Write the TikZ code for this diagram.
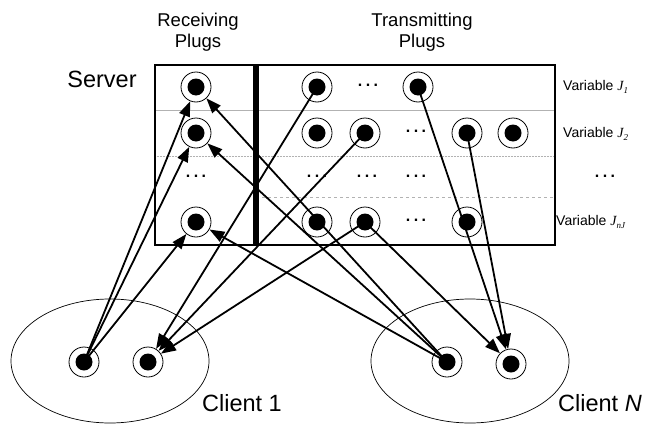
\documentclass[tikz,border=0pt]{standalone}
\usepackage{fontspec}
\setmainfont{Liberation Sans}
\newfontfamily\serifJ{Liberation Serif}
\usetikzlibrary{arrows.meta}
\newcommand{\varJ}[1]{{\serifJ\itshape J}\raisebox{-0.35ex}{\fontsize{9}{9}\selectfont\serifJ\itshape #1}}
\newcommand{\pdots}{\textbf{.\hspace{3.5pt}.\hspace{3.5pt}.}}
\begin{document}
\begin{tikzpicture}[x=1pt,y=-1pt,
  plug/.style={circle,draw,line width=0.8pt,minimum size=30pt,inner sep=0pt,
    path picture={\fill (path picture bounding box.center) circle (8.5pt);}},
  conn/.style={line width=1.8pt,-{Triangle[length=15pt,width=11pt]}},
  sep/.style={gray!60,line width=0.5pt},
  big/.style={font=\fontsize{23.5}{26}\selectfont},
  head/.style={font=\fontsize{18.5}{21}\selectfont,align=center},
  var/.style={font=\fontsize{14}{16}\selectfont,anchor=west,inner sep=0pt},
  dts/.style={font=\fontsize{16}{16}\selectfont,inner sep=0pt}]
\useasboundingbox (0,0) rectangle (645,423);

% clients
\draw[line width=0.7pt] (110,361) ellipse [x radius=99, y radius=62];
\draw[line width=0.7pt] (470,361) ellipse [x radius=99, y radius=62];

% server box
\draw[sep] (155,110) -- (555,110);
\draw[sep,densely dotted] (155,156) -- (555,156);
\draw[sep,dashed] (256,197) -- (555,197);
\draw[line width=1.1pt] (155,65) rectangle (555,245);
\draw[line width=6pt] (256,65) -- (256,245);

% labels
\node[big] (srv) at (102,79) {Server};
\node[head] (rcv) at (198,32) {Receiving\\Plugs};
\node[head] (trn) at (422,32) {Transmitting\\Plugs};
\node[var] (v1) at (563,87) {Variable \varJ{1}};
\node[var] (v2) at (563,134) {Variable \varJ{2}};
\node[dts] (vd) at (605,176) {\pdots};
\node[var] (vn) at (556,222) {Variable \varJ{nJ}};
\node[big] (cl1) at (242,403) {Client 1};
\node[big] (clN) at (600,403) {Client \textit{N}};

% receiving plugs
\node[plug] (r1) at (196,87) {};
\node[plug] (r2) at (196,133) {};
\node[dts] (rd) at (196,176) {\pdots};
\node[plug] (rn) at (196,222) {};

% transmitting plugs
\node[plug] (t11) at (317,87) {};
\node[dts] (t1d) at (368,85) {\pdots};
\node[plug] (t12) at (418,87) {};
\node[plug] (t21) at (317,133) {};
\node[plug] (t22) at (365,133) {};
\node[dts] (t2d) at (416,131) {\pdots};
\node[plug] (t23) at (467,133) {};
\node[plug] (t24) at (513,133) {};
\node[dts] (d1) at (317,176) {\pdots};
\node[dts] (d2) at (367,176) {\pdots};
\node[dts] (d3) at (416,176) {\pdots};
\node[plug] (tn1) at (317,222) {};
\node[plug] (tn2) at (365,222) {};
\node[dts] (tnd) at (416,220) {\pdots};
\node[plug] (tn3) at (467,222) {};

% client plugs
\node[plug] (c1a) at (84,362) {};
\node[plug] (c1b) at (148,362) {};
\node[plug] (cNa) at (447,362) {};
\node[plug] (cNb) at (511,364) {};

% connectors
\draw[conn] (c1a.center) -- (r1);
\draw[conn] (c1a.center) -- (r2);
\draw[conn] (c1a.center) -- (rn);
\draw[conn] (cNa.center) -- (r1);
\draw[conn] (cNa.center) -- (r2);
\draw[conn] (cNa.center) -- (rn);
\draw[conn] (t11.center) -- (c1b);
\draw[conn] (t22.center) -- (c1b);
\draw[conn] (tn2.center) -- (c1b);
\draw[conn] (tn2.center) -- (cNb);
\draw[conn] (t12.center) -- (cNb);
\draw[conn] (t23.center) -- (cNb);
\end{tikzpicture}
\end{document}
